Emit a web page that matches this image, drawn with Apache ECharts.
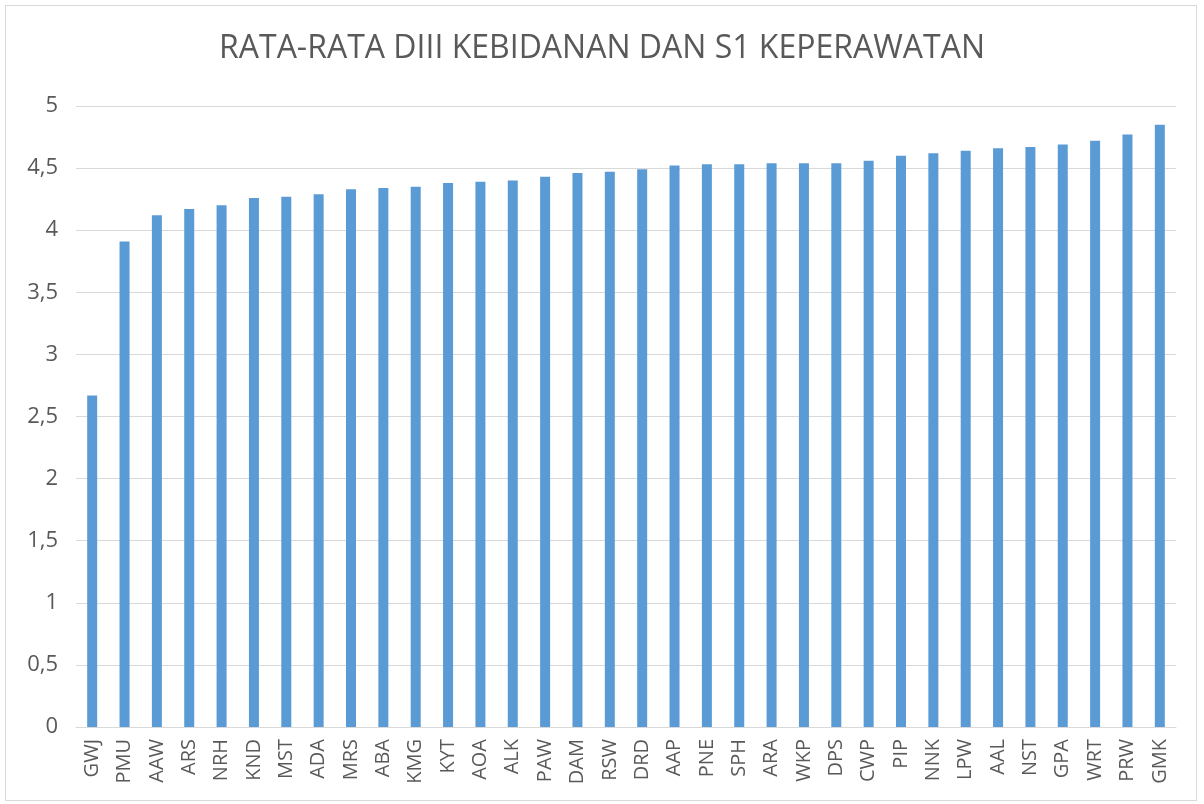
<!DOCTYPE html>
<html>
<head>
<meta charset="utf-8">
<script src="https://cdn.jsdelivr.net/npm/echarts@6/dist/echarts.min.js"></script>
<style>
    html, body { margin: 0; padding: 0; background: #fff; }
    #frame { position: absolute; left: 5px; top: 5px; width: 1192px; height: 796px; border: 1px solid #d9d9d9; box-sizing: border-box; }
    #chart { position: absolute; left: 0; top: 0; width: 1204px; height: 804px; }
</style>
</head>
<body>
<div id="frame"></div>
<div id="chart"></div>
<script>
// nama dan nilai rata-rata
const names = ['GWJ', 'PMU', 'AAW', 'ARS', 'NRH', 'KND', 'MST', 'ADA', 'MRS', 'ABA', 'KMG', 'KYT',
    'AOA', 'ALK', 'PAW', 'DAM', 'RSW', 'DRD', 'AAP', 'PNE', 'SPH', 'ARA', 'WKP', 'DPS', 'CWP',
    'PIP', 'NNK', 'LPW', 'AAL', 'NST', 'GPA', 'WRT', 'PRW', 'GMK']
const averages = [2.67, 3.91, 4.12, 4.17, 4.20, 4.26, 4.27, 4.29, 4.33, 4.34, 4.35, 4.38,
    4.39, 4.40, 4.43, 4.46, 4.47, 4.49, 4.52, 4.53, 4.53, 4.54, 4.54, 4.54, 4.56,
    4.60, 4.62, 4.64, 4.66, 4.67, 4.69, 4.72, 4.77, 4.85]
const titleText = 'RATA-RATA DIII KEBIDANAN DAN S1 KEPERAWATAN'

let chart = echarts.init(document.getElementById('chart'))
let option = {
    animation: false,
    textStyle: { fontFamily: 'Open Sans' },
    title: {
        text: titleText,
        left: 'center',
        top: 28,
        textStyle: {
            fontSize: 32,
            fontWeight: 'normal',
            color: '#595959',
            fontFamily: 'Open Sans'
        }
    },
    grid: { left: 76, top: 106, width: 1100, height: 621 },
    xAxis: {
        type: 'category',
        data: names,
        axisLine: { lineStyle: { color: '#d9d9d9', width: 1 } },
        axisTick: { show: false },
        axisLabel: {
            rotate: 90,
            interval: 0,
            margin: 12,
            fontSize: 20,
            color: '#595959'
        }
    },
    yAxis: {
        type: 'value',
        min: 0,
        max: 5,
        interval: 0.5,
        axisLine: { show: false },
        axisTick: { show: false },
        splitLine: { lineStyle: { color: '#d9d9d9', width: 1 } },
        axisLabel: {
            fontSize: 22,
            color: '#595959',
            margin: 18,
            formatter: function (v) { return String(v).replace('.', ',') }
        }
    },
    series: [{
        type: 'bar',
        data: averages,
        barWidth: 10,
        itemStyle: { color: '#5b9bd5' }
    }]
}
chart.setOption(option)
</script>
</body>
</html>
